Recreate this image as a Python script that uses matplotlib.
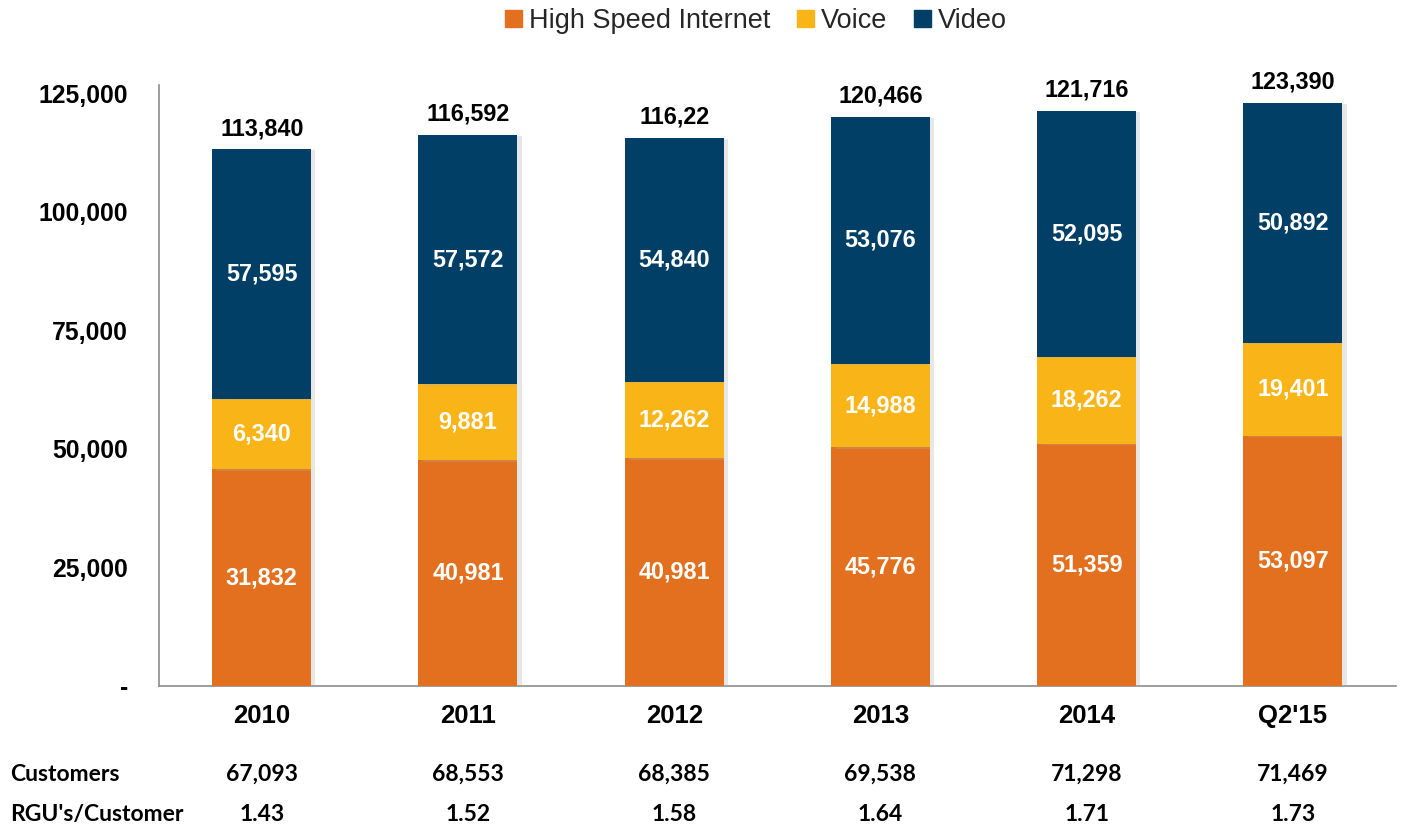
import matplotlib
matplotlib.use("Agg")
import matplotlib.pyplot as plt
import matplotlib.transforms as mtransforms
import matplotlib.patheffects as pe
from matplotlib.patches import Patch
import numpy as np

# ---- data ----
categories = ["2010", "2011", "2012", "2013", "2014", "Q2'15"]
# bar segment heights as drawn in the picture
hsi_bar = [45700, 47600, 48000, 50300, 51000, 52700]
voice_bar = [14800, 16000, 16100, 17600, 18400, 19700]
video_bar = [52700, 52600, 51500, 52100, 51900, 50600]
# printed labels
hsi_labels = ["31,832", "40,981", "40,981", "45,776", "51,359", "53,097"]
voice_labels = ["6,340", "9,881", "12,262", "14,988", "18,262", "19,401"]
video_labels = ["57,595", "57,572", "54,840", "53,076", "52,095", "50,892"]
total_labels = ["113,840", "116,592", "116,22", "120,466", "121,716", "123,390"]
customers = ["67,093", "68,553", "68,385", "69,538", "71,298", "71,469"]
rgu_per_customer = ["1.43", "1.52", "1.58", "1.64", "1.71", "1.73"]
yticks = [0, 25000, 50000, 75000, 100000, 125000]
ytick_labels = ["-", "25,000", "50,000", "75,000", "100,000", "125,000"]

C_HSI = "#E2701F"
C_VOICE = "#F9B417"
C_VIDEO = "#023F66"

plt.rcParams['font.family'] = ['Liberation Sans', 'DejaVu Sans']

fig = plt.figure(figsize=(14.04, 8.30), dpi=100)
ax = fig.add_axes([0.113, 0.1735, 0.8813, 0.7241])

x = np.arange(len(categories))
w = 0.48
shadow = [pe.SimplePatchShadow(offset=(3, -1), shadow_rgbFace="#b0b0b0", alpha=0.3), pe.Normal()]

hsi = np.array(hsi_bar)
voice = np.array(voice_bar)
video = np.array(video_bar)

b1 = ax.bar(x, hsi, w, color=C_HSI, zorder=3)
b2 = ax.bar(x, voice, w, bottom=hsi, color=C_VOICE, zorder=3)
b3 = ax.bar(x, video, w, bottom=hsi + voice, color=C_VIDEO, zorder=3)
for bars in (b1, b2, b3):
    for r in bars:
        r.set_path_effects(shadow)

lab_kw = dict(ha="center", va="center", color="white", fontsize=16.8, fontweight="bold", zorder=5)
for i in range(len(categories)):
    ax.text(x[i], hsi[i] / 2, hsi_labels[i], **lab_kw)
    ax.text(x[i], hsi[i] + voice[i] / 2, voice_labels[i], **lab_kw)
    ax.text(x[i], hsi[i] + voice[i] + video[i] / 2, video_labels[i], **lab_kw)
    top = hsi[i] + voice[i] + video[i]
    ax.annotate(total_labels[i], (x[i], top), xytext=(0, 9), textcoords="offset pixels",
                ha="center", va="bottom", fontsize=16.8, fontweight="bold", color="black")

ax.set_xlim(-0.5, 5.5)
ax.set_ylim(0, 126700)
ax.set_yticks(yticks)
ax.set_yticklabels(ytick_labels)
ax.set_xticks(x)
ax.set_xticklabels(categories)
ax.tick_params(axis="y", length=0, pad=22, labelsize=17.8)
ax.tick_params(axis="x", length=0, pad=13, labelsize=18.5)
for lab in ax.get_yticklabels() + ax.get_xticklabels():
    lab.set_fontweight("bold")
for s in ("top", "right"):
    ax.spines[s].set_visible(False)
for s in ("left", "bottom"):
    ax.spines[s].set_color("#8c8c8c")
    ax.spines[s].set_linewidth(1.2)

# rows below the chart
trans = mtransforms.blended_transform_factory(ax.transData, fig.transFigure)
row_font = ['Lato', 'DejaVu Sans']
for i in range(len(categories)):
    ax.text(x[i], 1 - 774 / 830, customers[i], transform=trans, ha="center", va="center",
            fontsize=16.5, fontweight="bold", family=row_font)
    ax.text(x[i], 1 - 814 / 830, rgu_per_customer[i], transform=trans, ha="center", va="center",
            fontsize=16.5, fontweight="bold", family=row_font)
fig.text(10 / 1404, 1 - 774 / 830, "Customers", ha="left", va="center",
         fontsize=16.5, fontweight="bold", family=row_font)
fig.text(10 / 1404, 1 - 814 / 830, "RGU's/Customer", ha="left", va="center",
         fontsize=16.5, fontweight="bold", family=row_font)

handles = [Patch(color=C_HSI), Patch(color=C_VOICE), Patch(color=C_VIDEO)]
fig.legend(handles, ["High Speed Internet", "Voice", "Video"], loc="center",
           bbox_to_anchor=(756 / 1404, 1 - 21 / 830), ncol=3, frameon=False,
           fontsize=19.5, handlelength=0.62, handleheight=0.62, handletextpad=0.25,
           columnspacing=1.0, labelcolor="#262626", borderpad=0)

fig.savefig("out.png", dpi=100)
